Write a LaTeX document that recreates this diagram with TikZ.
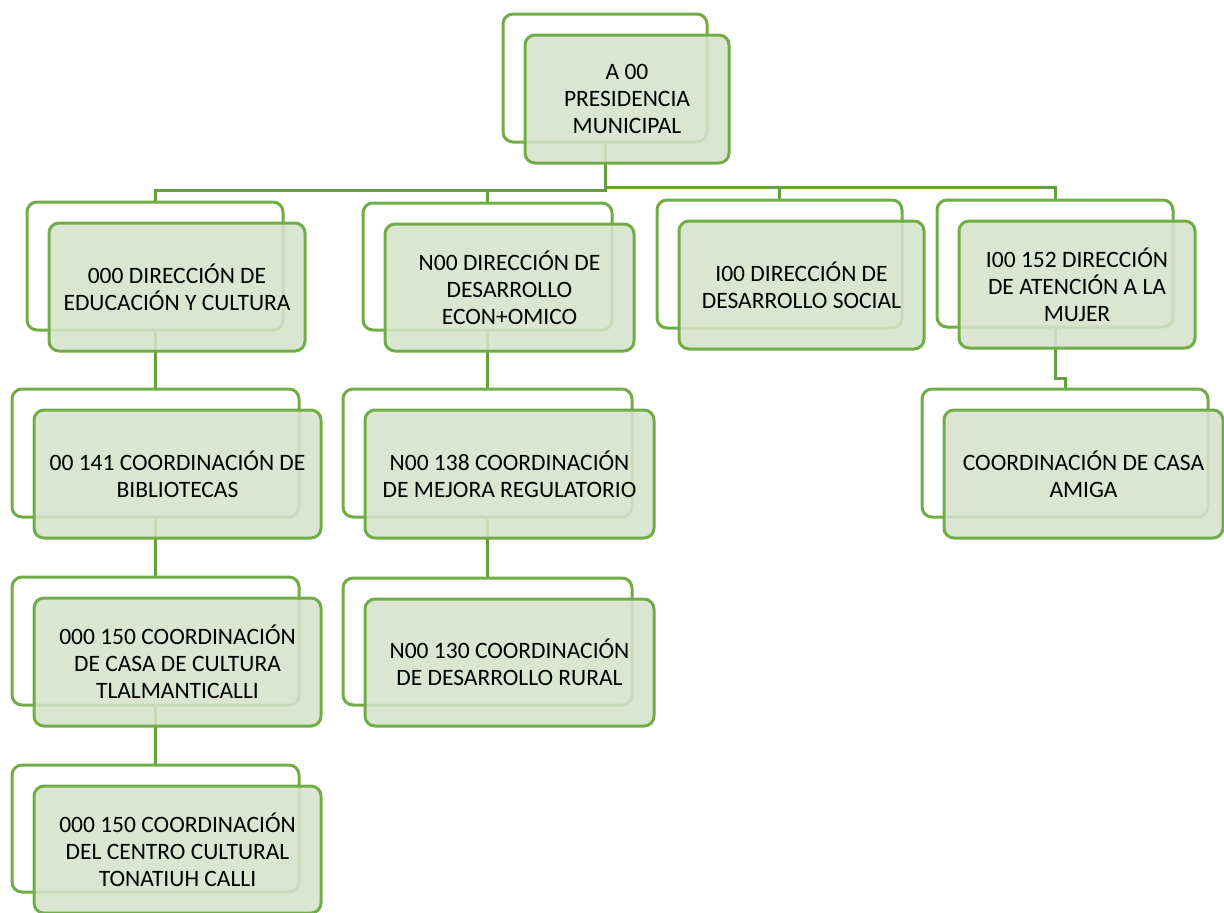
\documentclass[tikz,border=0pt]{standalone}
\usepackage{fontspec}
\setmainfont{Carlito}
\usetikzlibrary{backgrounds}

\definecolor{orgline}{RGB}{112,173,71}
\definecolor{orglink}{RGB}{100,160,62}
\definecolor{orgfill}{RGB}{213,227,204}

\tikzset{
  backbox/.style={draw=orgline, fill=white, line width=1.5pt,
    rounded corners=5pt, inner sep=0pt},
  frontbox/.style={draw=orgline, fill=orgfill, fill opacity=0.88,
    text opacity=1, line width=1.5pt, rounded corners=5pt, inner sep=0pt,
    align=center, text=black,
    font=\fontsize{11.75pt}{13.6pt}\selectfont},
  link/.style={draw=orglink, line width=1.5pt},
}

% #1 trim of the front card width, #2 name, #3/#4 centre of the back card,
% #5/#6 width and height (in drawing units), #7 label
\newcommand\orgunit[7][0]{%
  \node[backbox, minimum width=#5*0.5pt, minimum height=#6*0.5pt]
    (#2) at (#3,#4) {};
  \node[frontbox, minimum width=(#5-#1)*0.5pt, minimum height=#6*0.5pt,
    xshift=(22-#1/2)*0.5pt, yshift=-10.5pt]
    (#2-f) at (#2.center) {#7};
}

\begin{document}
\begin{tikzpicture}[x=0.5pt, y=-0.5pt]
\useasboundingbox (0,0) rectangle (1224,912);

% level 0
\orgunit{top}{605}{78}{204}{128}{A 00\\PRESIDENCIA\\MUNICIPAL}

% level 1
\orgunit{d1}{155}{266}{256}{128}{000 DIRECCIÓN DE\\EDUCACIÓN Y CULTURA}
\orgunit{d2}{487.5}{266.5}{249}{127}{N00 DIRECCIÓN DE\\DESARROLLO\\ECON+OMICO}
\orgunit{d3}{779.5}{264}{245}{128}{I00 DIRECCIÓN DE\\DESARROLLO SOCIAL}
\orgunit{d4}{1055}{263.5}{236}{127}{I00 152 DIRECCIÓN\\DE ATENCIÓN A LA\\MUJER}

% level 2 and below
\orgunit{c11}{155.5}{453}{287}{128}{00 141 COORDINACIÓN DE\\BIBLIOTECAS}
\orgunit{c12}{155.5}{641}{287}{128}{000 150 COORDINACIÓN\\DE CASA DE CULTURA\\TLALMANTICALLI}
\orgunit{c13}{155.5}{828.5}{287}{127}{000 150 COORDINACIÓN\\DEL CENTRO CULTURAL\\TONATIUH CALLI}
\orgunit{c21}{487.5}{453}{289}{128}{N00 138 COORDINACIÓN\\DE MEJORA REGULATORIO}
\orgunit{c22}{487.5}{641.5}{289}{127}{N00 130 COORDINACIÓN\\DE DESARROLLO RURAL}
\orgunit[7]{k4}{1065}{453}{286}{128}{COORDINACIÓN DE CASA\\AMIGA}

% connectors, drawn beneath the cards
\coordinate (busL) at (0,190);
\coordinate (busR) at (0,187.5);
\coordinate (jog4) at (0,378);
\begin{scope}[on background layer]
  \draw[link] (top.south) |- (d1.north |- busL) -- (d1.north);
  \draw[link] (top.south) |- (d2.north |- busL) -- (d2.north);
  \draw[link] (top.south) |- (d3.north |- busR) -- (d3.north);
  \draw[link] (top.south) |- (d4.north |- busR) -- (d4.north);
  \draw[link] (d1.south) -- (c11.north -| d1.south);
  \draw[link] (c11.south) -- (c12.north);
  \draw[link] (c12.south) -- (c13.north);
  \draw[link] (d2.south) -- (c21.north -| d2.south);
  \draw[link] (c21.south) -- (c22.north);
  \draw[link] (d4.south) |- (k4.north |- jog4) -- (k4.north);
\end{scope}
\end{tikzpicture}
\end{document}
